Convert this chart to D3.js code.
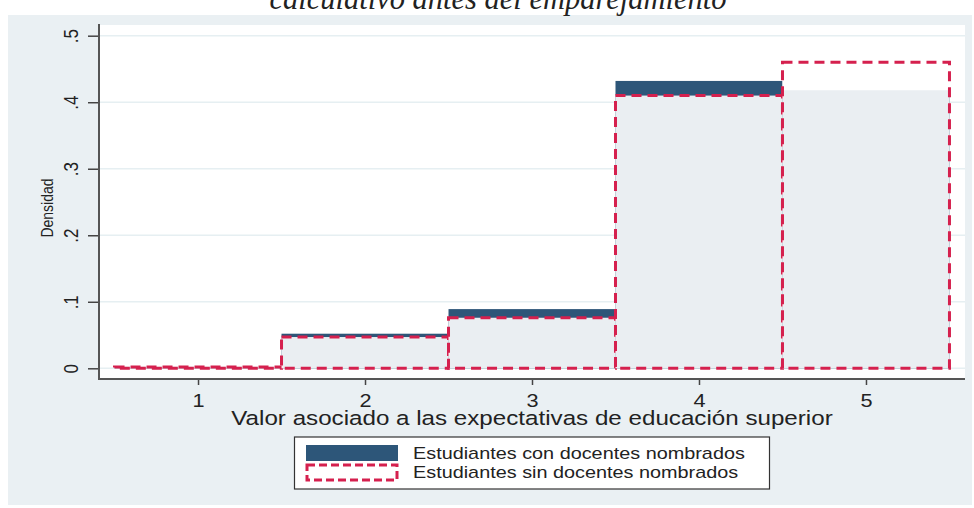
<!DOCTYPE html>
<html>
<head>
<meta charset="utf-8">
<script src="https://cdn.jsdelivr.net/npm/d3@7"></script>
<style>
  body { margin: 0; background: #fff; }
  text { font-family: "Liberation Sans", Arial, sans-serif; fill: #222; }
</style>
</head>
<body>
<div id="chart"></div>
<script>
// data
const categories = [1, 2, 3, 4, 5];
const conDocentes = [0.002, 0.052, 0.089, 0.432, 0.418];
const sinDocentes = [0.002, 0.047, 0.076, 0.410, 0.460];
const yTicks = [0, 0.1, 0.2, 0.3, 0.4, 0.5];
const yTickLabels = ['0', '.1', '.2', '.3', '.4', '.5'];
const seriesNames = ['Estudiantes con docentes nombrados', 'Estudiantes sin docentes nombrados'];

const width = 974, height = 508;
const plot = { left: 99, right: 965, top: 25, bottom: 379 };
const navy = '#2d5679';
const red = '#d5204e';
const stretch = 1.24; // the original graph was stretched sideways

const svg = d3.select('#chart')
  .append('svg')
    .attr('width', width)
    .attr('height', height);

// outer graph region
svg.append('rect')
  .attr('x', 8).attr('y', 15)
  .attr('width', 964).attr('height', 490)
  .attr('fill', '#eaf0f3');

// cut-off title from the page above
svg.append('text')
  .attr('x', 498).attr('y', 9)
  .attr('text-anchor', 'middle')
  .style('font-family', '"Liberation Serif", "Times New Roman", serif')
  .style('font-style', 'italic')
  .style('font-size', '30.5px')
  .text('calculativo antes del emparejamiento');

svg.append('rect')
  .attr('x', plot.left).attr('y', plot.top)
  .attr('width', plot.right - plot.left).attr('height', plot.bottom - plot.top)
  .attr('fill', '#fff');

const x = d3.scaleLinear()
  .domain([0.407, 5.593])
  .range([plot.left, plot.right]);
const y = d3.scaleLinear()
  .domain([0, 0.5])
  .range([368.3, 35.7]);

// gridlines
svg.append('g')
  .selectAll('line')
  .data(yTicks)
  .join('line')
    .attr('x1', plot.left).attr('x2', plot.right)
    .attr('y1', d => y(d)).attr('y2', d => y(d))
    .attr('stroke', '#e6eff2')
    .attr('stroke-width', 1.5);

// first series: solid navy bars
svg.append('g')
  .selectAll('rect')
  .data(categories)
  .join('rect')
    .attr('x', d => x(d - 0.5))
    .attr('width', d => x(d + 0.5) - x(d - 0.5))
    .attr('y', (d, i) => y(conDocentes[i]))
    .attr('height', (d, i) => y(0) - y(conDocentes[i]))
    .attr('fill', navy);

// second series: near-white fill, red dashed outline
svg.append('g')
  .selectAll('rect')
  .data(categories)
  .join('rect')
    .attr('x', d => x(d - 0.5))
    .attr('width', d => x(d + 0.5) - x(d - 0.5))
    .attr('y', (d, i) => y(sinDocentes[i]))
    .attr('height', (d, i) => y(0) - y(sinDocentes[i]))
    .attr('fill', '#fff')
    .attr('fill-opacity', 0.9)
    .attr('stroke', red)
    .attr('stroke-width', 3)
    .attr('stroke-dasharray', '10,6');

// axes
const yAxis = svg.append('g')
  .attr('transform', `translate(${plot.left},0)`)
  .call(d3.axisLeft(y).tickValues(yTicks).tickSize(11).tickFormat((d, i) => yTickLabels[i]));
yAxis.select('.domain').remove();
yAxis.selectAll('line').attr('stroke', '#444').attr('stroke-width', 1.5);
yAxis.selectAll('text')
  .attr('x', 0).attr('y', 0).attr('dy', 0)
  .attr('transform', `translate(-21,0) rotate(-90) scale(1,${stretch})`)
  .attr('text-anchor', 'middle')
  .style('font-size', '17px')
  .style('fill', '#222');

const xAxis = svg.append('g')
  .attr('transform', `translate(0,${plot.bottom})`)
  .call(d3.axisBottom(x).tickValues(categories).tickSize(6).tickFormat(d3.format('d')));
xAxis.select('.domain').remove();
xAxis.selectAll('line').attr('stroke', '#444').attr('stroke-width', 1.5);
xAxis.selectAll('text')
  .attr('y', 0).attr('dy', 0)
  .attr('transform', `translate(0,28) scale(${stretch},1)`)
  .style('font-size', '17.5px')
  .style('fill', '#222');

svg.append('path')
  .attr('d', `M${plot.left},${plot.top - 1}V${plot.bottom}H${plot.right}`)
  .attr('fill', 'none')
  .attr('stroke', '#555')
  .attr('stroke-width', 2);

// axis titles
svg.append('text')
  .attr('transform', `translate(53,208) rotate(-90) scale(1,${stretch})`)
  .attr('text-anchor', 'middle')
  .style('font-family', '"Liberation Sans Narrow", "Arial Narrow", sans-serif')
  .style('font-size', '14px')
  .text('Densidad');

svg.append('text')
  .attr('transform', `translate(532,425) scale(${stretch},1)`)
  .attr('text-anchor', 'middle')
  .style('font-size', '19.5px')
  .text('Valor asociado a las expectativas de educación superior');

// legend
const legend = svg.append('g');
legend.append('rect')
  .attr('x', 294.5).attr('y', 437)
  .attr('width', 475).attr('height', 52)
  .attr('fill', '#fff')
  .attr('stroke', '#333')
  .attr('stroke-width', 1.2);
legend.append('rect')
  .attr('x', 306).attr('y', 445)
  .attr('width', 92).attr('height', 16)
  .attr('fill', navy);
legend.append('rect')
  .attr('x', 307).attr('y', 465)
  .attr('width', 90).attr('height', 15)
  .attr('fill', '#fff')
  .attr('stroke', red)
  .attr('stroke-width', 3)
  .attr('stroke-dasharray', '8,4');
legend.selectAll('text.lab')
  .data(seriesNames)
  .join('text')
    .attr('class', 'lab')
    .attr('transform', (d, i) => `translate(413,${459 + i * 19}) scale(${stretch},1)`)
    .style('font-size', '16px')
    .text(d => d);
</script>
</body>
</html>
